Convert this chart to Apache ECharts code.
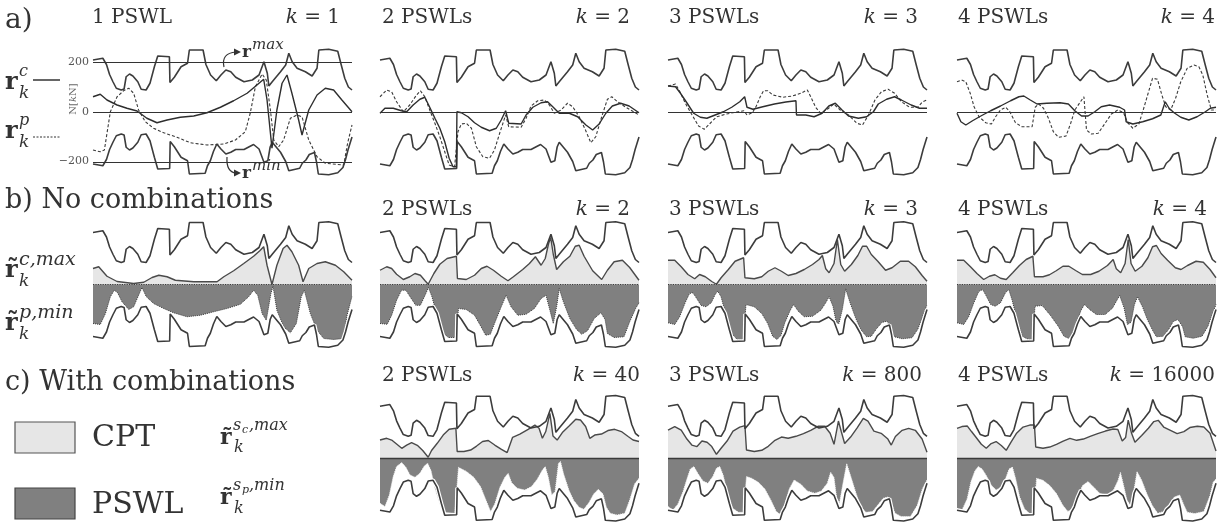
<!DOCTYPE html>
<html><head><meta charset="utf-8">
<script src="https://cdn.jsdelivr.net/npm/echarts@6/dist/echarts.min.js"></script>
<style>html,body{margin:0;padding:0;background:#fff}#c{width:1219px;height:524px}</style>
</head><body><div id="c"></div><script>
// ---------------- DATA (time step 0..100, force in kN) ----------------
const rMax = [[0,208],[3.8,215],[5.2,190],[6.4,150],[7.7,121],[9,95],[10.9,88],[12,92],[12.8,141],[14.1,152],[15.4,144],[17.3,121],[18.6,91],[20.5,88],[22,115],[23.7,181],[25,224],[29.5,221],[29.7,118],[31.4,139],[34,181],[36.5,195],[37.2,248],[42.5,248],[43.6,190],[45.4,148],[47.6,125],[49.4,148],[51.3,168],[53.2,161],[55.1,139],[58.3,121],[61.5,128],[64.1,148],[66,201],[67.3,155],[67.9,104],[69.2,121],[72.4,161],[74.4,188],[75.6,235],[76.9,201],[78.8,175],[82,161],[84.6,144],[86.5,175],[87.2,248],[91,251],[94.5,243],[95.8,190],[97.2,135],[98.6,100],[100,88]];
const rMin = [[0,-208],[3.8,-215],[5.2,-190],[6.4,-150],[7.7,-121],[9,-95],[10.9,-88],[12,-92],[12.8,-141],[14.1,-152],[15.4,-144],[17.3,-121],[18.6,-91],[20.5,-88],[22,-115],[23.7,-181],[25,-228],[29.6,-226],[29.8,-118],[31.4,-139],[34,-181],[36.5,-195],[37.2,-248],[43.3,-245],[44.2,-215],[45.3,-195],[46.5,-158],[47.8,-128],[49.4,-148],[51.3,-168],[53.2,-161],[55.1,-150],[58.3,-150],[60.5,-138],[62,-130],[64.1,-148],[66,-201],[67.5,-195],[68.4,-140],[69.2,-121],[72.4,-161],[74.4,-198],[75.6,-235],[79.8,-225],[80.8,-205],[82.2,-192],[83.5,-170],[85.5,-162],[86.3,-200],[87,-248],[91,-251],[94.5,-243],[96.5,-222],[97.5,-190],[98.5,-150],[100,-100]];

// a) r_k^c (solid) and r_k^p (dashed)
const a1Solid = [[0,61],[2.8,71],[5.4,48],[9.3,28],[13.1,15],[17,4],[20.8,-25],[24.7,-43],[28.6,-32],[33.7,-21],[38.9,-16],[44,-3],[49.2,19],[54.3,45],[59.5,75],[63.3,108],[65.9,131],[67.2,48],[69.1,-145],[71,8],[73,115],[74.9,148],[76.8,75],[79.4,-32],[80.7,-92],[83.3,8],[86.5,68],[89.7,95],[92.9,88],[96.1,48],[100,1]];
const a1Dashed = [[0,-152],[2.8,-159],[4.4,-152],[6.7,1],[9.3,61],[11.8,85],[13.8,95],[15.7,75],[17.6,8],[20.2,-39],[23.4,-65],[27.3,-83],[32.4,-101],[37.6,-123],[44,-132],[50.5,-128],[55,-112],[58.8,-79],[60.7,-5],[62.7,101],[65.3,152],[66.9,128],[68.5,8],[69.8,-112],[71.7,-139],[73.6,-112],[76.2,-25],[78.8,-12],[80.7,-19],[83.3,-112],[86.5,-179],[89.7,-205],[96.8,-212],[98.3,-125],[100,-52]];
const a2Solid = [[0,-5],[1.9,15],[5.1,15],[8.3,5],[10.3,1],[12.8,28],[15.4,51],[17.3,59],[19.2,19],[21.2,-25],[23.1,-65],[25,-119],[26.7,-185],[28.2,-219],[29.5,-219],[29.7,1],[31.4,-3],[34,-19],[36.5,-43],[39.1,-61],[42.3,-75],[44.9,-65],[46.8,-32],[48.5,5],[49.7,-45],[54.5,-48],[56.4,-12],[59,19],[62.2,37],[64.7,41],[66.7,21],[69.2,-5],[73.1,-5],[76.3,-19],[79.5,-52],[82.1,-72],[84.6,-48],[87.2,-5],[89.7,24],[92.9,35],[96.2,24],[100,-3]];
const a2Dashed = [[0,61],[2.6,88],[4.5,81],[6.4,41],[9,1],[11.5,28],[14.1,68],[15.6,85],[17.3,61],[19.2,8],[21.2,-45],[23.1,-99],[25,-159],[26.7,-212],[28.8,-219],[30.1,-79],[31.4,-48],[33.3,-45],[35.3,-65],[37.2,-139],[39.7,-179],[42.3,-185],[44.2,-152],[46.2,-85],[48.5,-12],[49.7,-59],[54.5,-61],[56.4,-25],[58.3,24],[60.9,45],[63.5,48],[65.4,28],[67.3,-5],[69.9,8],[72.4,35],[74.4,21],[76.9,-19],[79.2,-69],[81.4,-123],[83.3,-99],[85.6,-19],[87.8,51],[89.5,61],[91.7,41],[94.9,19],[100,-12]];
const a3Solid = [[0,104],[2.9,101],[4.8,75],[7.4,35],[9.9,-5],[12.5,-21],[15,-25],[18.2,-12],[21.4,1],[24.6,19],[27.7,41],[29.6,61],[30.5,19],[32.8,11],[36.6,21],[41.1,32],[45.5,40],[49.4,45],[49.6,-12],[53.2,-12],[56.4,-19],[59.5,-5],[62.1,24],[64.6,35],[67.2,8],[69.7,-16],[73.5,-25],[76.7,-19],[79.3,1],[81.2,32],[84.4,51],[87.5,61],[90.1,48],[93.9,28],[97.1,15],[100,15]];
const a3Dashed = [[0,104],[2.9,112],[4.6,81],[6.7,35],[9.3,-12],[11.8,-56],[14,-69],[16.3,-45],[18.8,-19],[22.6,-8],[27.1,1],[29.3,5],[30.5,-12],[32.6,-3],[34.1,24],[35.6,61],[36.9,85],[38.5,85],[40.5,68],[44.3,59],[48.1,64],[51.3,75],[53.8,88],[55.1,61],[57,19],[58.9,-5],[61.5,11],[64,32],[66.5,8],[69.7,-12],[72.9,-45],[75.1,-52],[77.4,-12],[79.9,48],[82.4,81],[85,91],[87.5,75],[90.1,41],[93.3,19],[96.4,19],[98.3,41],[100,48]];
const a4Solid = [[0,-5],[1.5,-39],[3.4,-52],[6,-35],[9.2,-16],[13,5],[16.8,24],[20.7,45],[23.9,61],[25.8,64],[28.3,48],[30.9,32],[34.7,35],[39.8,37],[43,32],[45.5,5],[48.1,-16],[50.6,-16],[53.2,1],[55.7,21],[58.9,28],[62.8,19],[64.7,8],[65.3,-39],[67.9,-48],[71.7,-39],[75.5,-27],[78.7,-12],[80.4,41],[81.9,15],[83.8,-3],[86.4,-21],[89.5,-32],[92.7,-19],[95.9,1],[97.8,15],[100,19]];
const a4Dashed = [[0,121],[1.8,128],[3.4,121],[5.1,75],[6.6,21],[8.5,-19],[11.1,-43],[13.3,-48],[14.9,-19],[16.8,8],[18.8,19],[20.4,1],[22.6,-43],[25.1,-59],[29,-59],[30.2,19],[31.5,32],[33.4,15],[35.3,-25],[37.2,-79],[39.2,-101],[42.1,-96],[43.9,-45],[45.5,8],[47.4,37],[49,61],[50,-72],[51.9,-88],[54.5,-85],[57,-48],[59.6,-8],[62.1,8],[64.3,-3],[65.9,-43],[67.9,-65],[70.2,-48],[71.9,8],[73.6,68],[75.5,135],[77.4,131],[79.1,68],[80.6,21],[82.5,8],[84.4,55],[86.4,121],[88.9,175],[91.5,188],[93.4,181],[94.9,148],[96.6,68],[98.2,8],[100,8]];

// b) no combinations: CPT max (light) and PSWL min (dark)
const b1Cpt = [[0,64],[2.2,71],[5.4,33],[9.3,12],[15.7,4],[19.6,9],[22.8,28],[25.4,37],[28.6,31],[31.8,17],[38.9,11],[47.9,11],[50.5,31],[54.3,55],[58.2,84],[62,113],[64.4,135],[65.9,151],[67.2,77],[69.1,0],[71,77],[73.4,144],[74.9,157],[76.8,131],[79.4,77],[81.1,11],[83.3,64],[86.5,84],[89.7,91],[93.6,77],[96.8,51],[100,17]];
const b1Pswl = [[0,-156],[2.8,-160],[4.8,-116],[6.7,-49],[8.2,-23],[9.5,-33],[11.2,-69],[13.8,-100],[15.7,-89],[17.6,-43],[18.9,-12],[20.6,-49],[23.4,-76],[27.3,-96],[31.1,-113],[36.3,-129],[41.4,-123],[46.6,-109],[51.7,-96],[56.9,-79],[60.1,-49],[62,-23],[63.6,-43],[65.3,-116],[66.9,-143],[68.7,-36],[69.5,-7],[71,-103],[73.6,-169],[76.2,-193],[78.5,-156],[80.4,-49],[81.6,-23],[83.9,-116],[86.5,-183],[89.1,-216],[92.9,-220],[96.8,-216],[98.1,-123],[100,-47]];
const b2Cpt = [[0,57],[2.6,71],[4.5,64],[6.4,41],[9,20],[11.5,31],[13.5,44],[15.6,37],[17.4,15],[18.6,1],[20.8,44],[23.1,81],[25.9,104],[29.5,113],[29.9,24],[33.3,20],[36.5,37],[39.1,64],[41.3,73],[43.8,57],[46.8,33],[49.4,15],[51.5,31],[55.1,60],[57.7,84],[60,111],[62.2,77],[63.8,104],[65.1,164],[65.9,188],[66.9,121],[68.2,60],[70.8,91],[73.3,113],[75.4,153],[76.9,157],[78.8,113],[82.1,55],[85.6,20],[87.8,57],[90.4,91],[93.6,97],[96.4,68],[100,17]];
const b2Pswl = [[0,-156],[2.8,-159],[4.5,-123],[6.4,-63],[8.3,-23],[10,-23],[11.8,-52],[13.8,-83],[15.6,-83],[17.4,-43],[18.7,-12],[20,-47],[21.8,-116],[24.1,-189],[26.3,-212],[29.5,-212],[30.3,-96],[33.3,-100],[36.5,-123],[38.7,-163],[40.8,-203],[42.6,-199],[44.2,-156],[46.8,-89],[48.7,-43],[50.6,-89],[53.2,-123],[56.4,-119],[59.6,-96],[62.2,-56],[64.1,-43],[65.6,-103],[66.9,-156],[68.2,-89],[69.2,-16],[70.8,-69],[73.3,-136],[75.9,-180],[77.9,-199],[80.1,-185],[82.7,-136],[85.3,-113],[86.9,-140],[87.8,-196],[90.4,-212],[94.2,-209],[96.4,-149],[98.7,-96],[100,-73]];
const b3Cpt = [[0,97],[2.6,97],[5.1,71],[7.7,40],[10.3,23],[12.2,40],[14.4,31],[16.9,12],[18.7,1],[20.5,27],[23.3,60],[25.9,93],[29.2,107],[29.7,27],[33.3,23],[36.2,31],[38.7,53],[41.3,67],[43.8,53],[46.4,36],[49.4,44],[52.6,60],[55.8,80],[58.3,100],[59.6,116],[60.9,63],[62.2,47],[64.1,84],[65.4,180],[66.7,80],[68.2,53],[70.8,80],[73.3,116],[75.1,153],[76.7,153],[78.5,120],[81,93],[84,57],[86.5,67],[89.7,93],[92.9,93],[95.5,71],[98.1,36],[100,13]];
const b3Pswl = [[0,-153],[2.6,-160],[4.5,-129],[6.7,-71],[8.3,-36],[9.6,-33],[10.9,-53],[12.8,-84],[14.7,-89],[16.7,-73],[18.2,-40],[19.2,-27],[20.5,-49],[22.4,-127],[24.6,-196],[26.7,-220],[29.2,-220],[30.1,-80],[33.3,-89],[36.2,-116],[38.5,-156],[40.4,-207],[42.1,-220],[43.6,-204],[45.1,-153],[47.2,-103],[48.5,-80],[50.3,-107],[52.6,-129],[55.8,-127],[59,-103],[60.9,-73],[62.2,-49],[63.7,-87],[65,-153],[66,-156],[67.3,-100],[68.6,-17],[70.3,-73],[72.4,-133],[74.4,-180],[76.7,-209],[78.5,-207],[80.5,-177],[82.7,-151],[84.6,-147],[86.2,-180],[87.4,-209],[90.4,-217],[94.2,-213],[96.4,-180],[98.5,-124],[100,-80]];
const b4Cpt = [[0,97],[2.6,97],[5.2,71],[7.7,44],[10.3,20],[12.5,33],[14.6,39],[16.8,25],[19,20],[21.5,47],[24.1,76],[26.7,100],[29.3,113],[29.9,31],[33.2,31],[35.7,39],[38.3,55],[40.9,73],[43.2,73],[45.8,56],[48.4,40],[51.6,40],[54.8,53],[58.1,76],[60.3,100],[61.5,63],[63.2,47],[64.9,84],[66.1,180],[67.2,84],[68.8,53],[71.4,73],[73.7,107],[75.5,151],[77,156],[78.8,124],[81.3,97],[84.3,67],[86.5,60],[89,76],[92.3,93],[95.1,89],[97.7,60],[100,27]];
const b4Pswl = [[0,-153],[2.6,-160],[4.5,-129],[6.5,-73],[8.4,-28],[9.9,-20],[11.2,-44],[13,-80],[14.8,-87],[16.8,-73],[18.7,-33],[20,-20],[21.3,-63],[23.2,-143],[25.2,-207],[27.5,-220],[29.3,-223],[30.1,-87],[32.9,-84],[36.1,-124],[39.1,-167],[41.3,-207],[43,-215],[44.5,-204],[46.1,-153],[47.9,-103],[49.2,-80],[51.2,-100],[53.8,-120],[57.2,-120],[60,-95],[61.9,-60],[62.8,-44],[64.5,-93],[65.8,-160],[67.2,-151],[68.5,-80],[69.7,-49],[71.6,-89],[73.5,-140],[75.5,-183],[77,-209],[79.6,-207],[81.7,-180],[83.5,-148],[85.3,-140],[87.1,-169],[88.1,-209],[91.2,-215],[94.6,-207],[96.9,-167],[98.7,-116],[100,-80]];

// c) with combinations: CPT max (light) and PSWL min (dark)
const c2Cpt = [[0,73],[2.6,80],[4.5,73],[6.4,57],[8.4,40],[10.3,53],[12.2,63],[14.4,52],[16.5,31],[18.6,4],[19.9,31],[22.1,60],[24.4,93],[26.7,116],[29.3,120],[29.8,27],[32.4,27],[35,33],[37.3,49],[39.6,67],[41.8,71],[44.3,53],[46.9,36],[49.1,23],[51.2,84],[54,97],[57.2,116],[59.8,133],[61.4,120],[62.7,80],[64,107],[65.6,180],[66.8,89],[68.4,73],[70.4,103],[73,129],[75.6,156],[77.4,153],[79.4,127],[81,80],[82.9,93],[85.5,97],[88,111],[90.6,116],[93.2,107],[95.8,87],[97.7,73],[100,67]];
const c2Pswl = [[0,-180],[1.9,-193],[3.6,-147],[5.1,-73],[6.4,-33],[8.4,-17],[10,-36],[11.6,-67],[13.5,-76],[15.4,-60],[17.1,-31],[18.4,-20],[19.7,-49],[21.2,-120],[23.1,-183],[25.1,-217],[28.9,-220],[30.3,-36],[33.4,-53],[36.2,-76],[38.8,-113],[40.9,-167],[42.7,-213],[44.3,-183],[46.3,-116],[48.2,-76],[49.5,-60],[50.8,-97],[53,-120],[55.9,-127],[58.5,-113],[60.7,-84],[62.7,-47],[63.8,-33],[65,-76],[66.3,-147],[67.6,-133],[68.9,-20],[69.7,-13],[70.9,-63],[73,-129],[74.8,-169],[76.9,-196],[78.7,-204],[80.7,-177],[82.5,-143],[84.3,-124],[86.1,-143],[87.4,-196],[88.9,-220],[91.5,-227],[94.5,-220],[96.4,-167],[98.3,-103],[100,-80]];
const c3Cpt = [[0,113],[2.6,127],[5.1,113],[7.3,77],[9.2,53],[11.2,47],[13.1,69],[15.1,64],[16.9,47],[18.7,16],[20.5,40],[22.8,69],[25.1,109],[27.7,125],[29.7,131],[30.3,33],[33.3,27],[36.2,32],[38.7,48],[41.3,72],[43.8,85],[46.4,80],[49.4,88],[52.3,99],[55.1,112],[57.9,128],[60.5,128],[62.6,100],[64.1,56],[65.8,149],[66.9,107],[68.2,59],[70.5,85],[73.1,123],[75.4,160],[77.2,149],[79.5,109],[82.3,100],[84.9,77],[86.2,53],[87.8,87],[90.4,112],[92.9,120],[95.5,112],[98.1,77],[100,24]];
const c3Pswl = [[0,-193],[1.9,-207],[3.8,-184],[5.8,-133],[7.3,-83],[8.6,-43],[10,-33],[11.5,-60],[13.5,-91],[15.4,-100],[17.3,-73],[18.7,-40],[20,-33],[21.3,-67],[23.1,-147],[25,-200],[27.2,-216],[29.2,-216],[30.3,-73],[32.3,-80],[34.9,-96],[37.4,-123],[39.7,-167],[41.8,-213],[43.3,-224],[45.1,-187],[46.8,-123],[48.7,-87],[51.3,-104],[53.8,-131],[56.7,-140],[59.2,-131],[61.5,-100],[62.8,-56],[64.1,-77],[65.1,-157],[66.2,-180],[67.4,-109],[69,-21],[70.8,-80],[72.6,-140],[74.4,-193],[76.4,-216],[79,-213],[81,-187],[83.1,-160],[84.9,-155],[86.4,-187],[87.7,-220],[90,-233],[93.6,-233],[96.2,-189],[98.2,-123],[100,-87]];
const c4Cpt = [[0,120],[1.9,127],[4,129],[5.6,107],[7.4,83],[9.4,56],[11.3,40],[13.2,59],[15.1,67],[17.1,51],[19,32],[20.8,64],[22.9,99],[25.5,125],[28.1,133],[29.9,133],[30.4,45],[33.2,40],[35.8,45],[38.4,56],[41,69],[43.6,80],[46.2,72],[48.8,77],[51.4,88],[54.3,99],[57.3,109],[60.2,117],[62.1,115],[63.8,69],[65.1,83],[66.1,153],[67.4,100],[68.7,64],[71.3,91],[73.9,120],[76,147],[77.7,152],[79.8,125],[82.4,112],[85,99],[87.6,107],[89.9,123],[92.8,128],[95.3,125],[97.7,100],[100,29]];
const c4Pswl = [[0,-200],[1.9,-208],[3.9,-163],[5.4,-93],[6.9,-51],[8.2,-33],[9.7,-43],[11.3,-69],[13.2,-107],[15.1,-127],[17.1,-115],[18.8,-80],[20.1,-43],[21.4,-35],[22.6,-80],[24.2,-155],[26.1,-203],[28.1,-221],[29.9,-221],[30.7,-80],[33.2,-88],[35.8,-109],[38.4,-141],[40.8,-187],[42.8,-213],[44.9,-200],[46.7,-149],[48.5,-109],[50.6,-93],[52.7,-115],[55.2,-141],[57.8,-147],[60.4,-128],[62.2,-88],[63.1,-56],[64.3,-107],[65.6,-167],[66.9,-187],[68.2,-136],[69.5,-53],[71.3,-88],[73.4,-144],[75.4,-189],[77.5,-220],[79.8,-213],[81.9,-187],[83.9,-155],[86,-147],[87.6,-187],[88.9,-216],[91.8,-221],[95.3,-213],[97.7,-149],[98.9,-96],[100,-83]];

const refLinesA1 = [200, 0, -200];
const tickLabelsA1 = ['200', '0', '\u2212200'];
const titlesA = ['1 PSWL', '2 PSWLs', '3 PSWLs', '4 PSWLs'];
const titlesB = ['', '2 PSWLs', '3 PSWLs', '4 PSWLs'];
const titlesC = ['', '2 PSWLs', '3 PSWLs', '4 PSWLs'];
const kA = ['1', '2', '3', '4'];
const kB = ['', '2', '3', '4'];
const kC = ['', '40', '800', '16000'];
const rowLabels = ['a)', 'b) No combinations', 'c) With combinations'];
const legendNames = ['CPT', 'PSWL'];

// ---------------- LAYOUT ----------------
const FONT = '"DejaVu Serif", "Liberation Serif", serif';
const INK = '#333';
const COL_L = [93, 380, 668, 957];
const PW = 259, PH = 130;
const ROW_T = {a: 47, b: 219.5, c: 393.3};
const KRIGHT = {a: [340, 630, 918, 1215], b: [0, 630, 918, 1207], c: [0, 640, 922, 1215]};
const LIGHT = '#e6e6e6', DARK = '#808080';

const grid = [], xAxis = [], yAxis = [], series = [];
function addGrid(row, col) {
  const i = grid.length;
  grid.push({left: COL_L[col], top: ROW_T[row], width: PW, height: PH, show: false});
  xAxis.push({gridIndex: i, type: 'value', min: 0, max: 100, show: false});
  yAxis.push({gridIndex: i, type: 'value', min: -260, max: 260, show: false});
  return i;
}
function line(i, data, lineStyle, extra) {
  series.push(Object.assign({type: 'line', xAxisIndex: i, yAxisIndex: i, data: data,
    symbol: 'none', silent: true, animation: false, lineStyle: lineStyle}, extra || {}));
}
const envStyle = {color: '#3c3c3c', width: 1.6};

const aPanels = [[a1Solid, a1Dashed], [a2Solid, a2Dashed], [a3Solid, a3Dashed], [a4Solid, a4Dashed]];
aPanels.forEach(function (p, col) {
  const i = addGrid('a', col);
  const refs = col === 0 ? refLinesA1 : [0];
  line(i, rMax, envStyle, {markLine: {silent: true, symbol: 'none', label: {show: false}, animation: false,
    lineStyle: {color: '#333', width: 1.2, type: 'solid'}, data: refs.map(function (v) { return {yAxis: v}; })}});
  line(i, rMin, envStyle);
  line(i, p[1], {color: '#3a3a3a', width: 1.1, type: [3, 2]});
  line(i, p[0], {color: '#2e2e2e', width: 1.4});
});

function areaPanel(row, col, cpt, pswl) {
  const i = addGrid(row, col);
  line(i, cpt, {color: '#4a4a4a', width: 1.4}, {areaStyle: {color: LIGHT, opacity: 1, origin: 0}});
  line(i, pswl, {color: row === 'b' ? '#3a3a3a' : '#f0f0f0', width: 1, type: 'dotted'},
    {areaStyle: {color: DARK, opacity: 1, origin: 0}});
  line(i, rMin, {color: '#ffffff', width: 4});
  line(i, rMin, envStyle);
  line(i, rMax, envStyle, {markLine: {silent: true, symbol: 'none', label: {show: false}, animation: false,
    lineStyle: row === 'b' ? {color: '#3a3a3a', width: 1.2, type: 'dotted'} : {color: '#3a3a3a', width: 1.4, type: 'solid'},
    data: [{yAxis: 0}]}});
}
[[b1Cpt, b1Pswl], [b2Cpt, b2Pswl], [b3Cpt, b3Pswl], [b4Cpt, b4Pswl]].forEach(function (p, col) { areaPanel('b', col, p[0], p[1]); });
[[c2Cpt, c2Pswl], [c3Cpt, c3Pswl], [c4Cpt, c4Pswl]].forEach(function (p, j) { areaPanel('c', j + 1, p[0], p[1]); });

// ---------------- TEXT / GRAPHICS ----------------
const graphic = [];
function T(x, y, text, size, opt) {
  opt = opt || {};
  graphic.push({type: 'text', x: x, y: y, rotation: opt.rot || 0, silent: true, z: 100,
    style: {text: text, fill: opt.color || INK,
      font: (opt.italic ? 'italic ' : '') + (opt.bold ? 'bold ' : '') + size + 'px ' + FONT,
      align: opt.align || 'left', textAlign: opt.align || 'left',
      verticalAlign: 'middle', textVerticalAlign: 'middle',
      rich: opt.rich}});
}
function kText(xr, y, val) {
  T(xr, y, '{i|k} = ' + val, 20, {align: 'right', rich: {i: {fontStyle: 'italic', fontFamily: FONT, fontSize: 20, fill: INK, color: INK}}});
}
// row labels
T(5, 21, rowLabels[0], 28);
T(5, 201, rowLabels[1], 27);
T(5, 383, rowLabels[2], 27);
// panel titles
const titleY = {a: 18, b: 210, c: 376};
const TLX = [92, 382, 669, 958];
titlesA.forEach(function (t, c) { if (t) T(TLX[c], titleY.a, t, 20); if (kA[c]) kText(KRIGHT.a[c], titleY.a, kA[c]); });
titlesB.forEach(function (t, c) { if (t) T(TLX[c], titleY.b, t, 20); if (kB[c]) kText(KRIGHT.b[c], titleY.b, kB[c]); });
titlesC.forEach(function (t, c) { if (t) T(TLX[c], titleY.c, t, 20); if (kC[c]) kText(KRIGHT.c[c], titleY.c, kC[c]); });
// a1 tick labels and axis name
const tickY = [62, 112, 161];
tickLabelsA1.forEach(function (s, j) { T(89, tickY[j], s, 11, {align: 'right', color: '#555'}); });
T(73, 99, 'N[{i|k}N]', 10, {align: 'center', rot: Math.PI / 2, color: '#666',
  rich: {i: {fontStyle: 'italic', fontFamily: FONT, fontSize: 10, fill: '#666', color: '#666'}}});

// math labels
function mathR(x, y, sup, sub, supSize, tilde) {
  T(x, y, tilde ? 'r\u0303' : 'r', 24, {bold: true});
  T(x + 14, y - 11, sup, supSize, {italic: true});
  T(x + 14, y + 11, sub, 17, {italic: true});
}
mathR(5, 83, 'c', 'k', 16, false);
mathR(5, 132, 'p', 'k', 16, false);
graphic.push({type: 'line', silent: true, shape: {x1: 33, y1: 80, x2: 60, y2: 80}, style: {stroke: '#333', lineWidth: 1.5}});
graphic.push({type: 'line', silent: true, shape: {x1: 33, y1: 137, x2: 60, y2: 137}, style: {stroke: '#333', lineWidth: 1, lineDash: [2, 1.5]}});
mathR(5, 271, 'c,max', 'k', 19, true);
mathR(5, 324, 'p,min', 'k', 19, true);
// row c legend math
T(220, 438, 'r\u0303', 22, {bold: true});
T(233, 426, 's', 16, {italic: true});
T(242, 430, 'c', 11, {italic: true});
T(249, 426, ',max', 16, {italic: true});
T(234, 448, 'k', 16, {italic: true});
T(220, 498, 'r\u0303', 22, {bold: true});
T(233, 486, 's', 16, {italic: true});
T(242, 490, 'p', 11, {italic: true});
T(249, 486, ',min', 16, {italic: true});
T(234, 509, 'k', 16, {italic: true});

// legend boxes
graphic.push({type: 'rect', silent: true, shape: {x: 15, y: 422, width: 60, height: 31}, style: {fill: LIGHT, stroke: '#555', lineWidth: 1.2}});
graphic.push({type: 'rect', silent: true, shape: {x: 15, y: 488, width: 60, height: 31}, style: {fill: DARK, stroke: '#444', lineWidth: 1.2}});
T(92, 438, legendNames[0], 30);
T(92, 505, legendNames[1], 30);

// r^max / r^min annotation arrows in panel a1
graphic.push({type: 'bezierCurve', silent: true, z: 100, shape: {x1: 224, y1: 67, x2: 236, y2: 52, cpx1: 221, cpy1: 53}, style: {stroke: '#333', lineWidth: 1.2, fill: null}});
graphic.push({type: 'polygon', silent: true, z: 100, shape: {points: [[234, 48.5], [241, 52], [234, 55.5]]}, style: {fill: '#333'}});
T(242, 53, 'r', 17, {bold: true});
T(252, 45, 'max', 15, {italic: true});
graphic.push({type: 'bezierCurve', silent: true, z: 100, shape: {x1: 227, y1: 157, x2: 236, y2: 173, cpx1: 226, cpy1: 172}, style: {stroke: '#333', lineWidth: 1.2, fill: null}});
graphic.push({type: 'polygon', silent: true, z: 100, shape: {points: [[234, 169.5], [241, 173], [234, 176.5]]}, style: {fill: '#333'}});
T(242, 174, 'r', 17, {bold: true});
T(252, 166, 'min', 15, {italic: true});

const chart = echarts.init(document.getElementById('c'), null, {renderer: 'canvas', width: 1219, height: 524});
chart.setOption({animation: false, backgroundColor: '#fff', grid: grid, xAxis: xAxis, yAxis: yAxis, series: series, graphic: graphic});
</script></body></html>
